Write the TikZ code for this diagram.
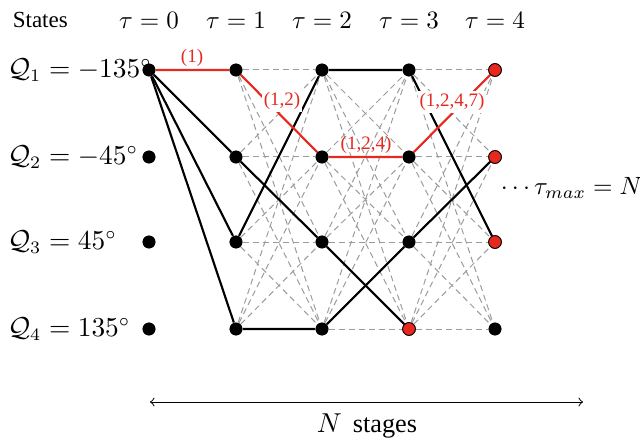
\documentclass[tikz,border=0pt]{standalone}
\usepackage{fontspec}
\setmainfont{Liberation Serif}
\definecolor{myred}{RGB}{230,40,30}
\definecolor{mygray}{RGB}{155,155,155}
\tikzset{
  dot/.style={circle, fill=black, inner sep=0pt, minimum size=5.1pt},
  rdot/.style={circle, fill=myred, draw=black, line width=0.3pt, inner sep=0pt, minimum size=5.1pt},
  gdash/.style={draw=mygray, line width=0.4pt, dash pattern=on 2.4pt off 1.6pt},
  bline/.style={draw=black, line width=0.85pt},
  rline/.style={draw=myred, line width=0.85pt},
  rlab/.style={text=myred, font=\fontsize{7.6}{9}\selectfont, inner sep=0.8pt},
  qlab/.style={anchor=west, font=\fontsize{10.7}{12}\selectfont},
}
\begin{document}
\begin{tikzpicture}[x=0.4pt,y=-0.4pt]
\useasboundingbox (0,0) rectangle (640,439);
% positions
\foreach \c/\x in {0/149,1/236,2/322,3/409,4/495}{
  \foreach \r/\y in {1/70,2/157,3/242,4/329}{
    \coordinate (p\c\r) at (\x,\y);
  }
}
\foreach \c in {0,1,2}{\foreach \r in {1,...,4}{\node[dot] (n\c\r) at (p\c\r) {};}}
\node[dot] (n31) at (p31) {};
\node[dot] (n32) at (p32) {};
\node[dot] (n33) at (p33) {};
\node[rdot] (n34) at (p34) {};
\node[rdot] (n41) at (p41) {};
\node[rdot] (n42) at (p42) {};
\node[rdot] (n43) at (p43) {};
\node[dot] (n44) at (p44) {};
% dashed complete connections
\foreach \j in {1,...,4}{\draw[gdash] (n01) -- (n1\j);}
\foreach \c/\d in {1/2,2/3,3/4}{
  \foreach \i in {1,...,4}{
    \foreach \j in {1,...,4}{
      \draw[gdash] (n\c\i) -- (n\d\j);
    }
  }
}
% black paths
\draw[bline] (n01) -- (n12) -- (n23) -- (n34);
\draw[bline] (n01) -- (n13) -- (n21) -- (n31) -- (n43);
\draw[bline] (n01) -- (n14) -- (n24) -- (n33) -- (n42);
% red path
\draw[rline] (n01) -- (n11) -- (n22) -- (n32) -- (n41);
% redraw nodes on top
\foreach \c in {0,1,2}{\foreach \r in {1,...,4}{\node[dot] at (p\c\r) {};}}
\node[dot] at (p31) {};
\node[dot] at (p32) {};
\node[dot] at (p33) {};
\node[rdot] at (p34) {};
\node[rdot] at (p41) {};
\node[rdot] at (p42) {};
\node[rdot] at (p43) {};
\node[dot] at (p44) {};
% red labels
\node[rlab] (l1) at (192,58) {(1)};
\node[rlab, fill=white] (l2) at (282,101) {(1,2)};
\node[rlab] (l3) at (366,145) {(1,2,4)};
\node[rlab, fill=white] (l4) at (452,102) {(1,2,4,7)};
% headers
\node[anchor=west, font=\fontsize{9.2}{11}\selectfont] (hs) at (4,20) {States};
\node (h0) at (149,20) {$\tau=0$};
\node (h1) at (236,20) {$\tau=1$};
\node (h2) at (322,20) {$\tau=2$};
\node (h3) at (409,20) {$\tau=3$};
\node (h4) at (495,20) {$\tau=4$};
% state labels
\node[qlab] (q1) at (-1,70) {$\mathcal{Q}_1=-135^\circ$};
\node[qlab] (q2) at (-1,157) {$\mathcal{Q}_2=-45^\circ$};
\node[qlab] (q3) at (-1,242) {$\mathcal{Q}_3=45^\circ$};
\node[qlab] (q4) at (-1,329) {$\mathcal{Q}_4=135^\circ$};
% tau max
\node[anchor=west] (tm) at (492,188) {$\cdots\tau_{max}=N$};
% N stages
\coordinate (aL) at (150,402);
\coordinate (aR) at (583,402);
\draw[<->, line width=0.4pt] (aL) -- (aR);
\node[font=\fontsize{10.5}{12}\selectfont] (ns) at (367,426) {$N$\, stages};
\end{tikzpicture}
\end{document}
